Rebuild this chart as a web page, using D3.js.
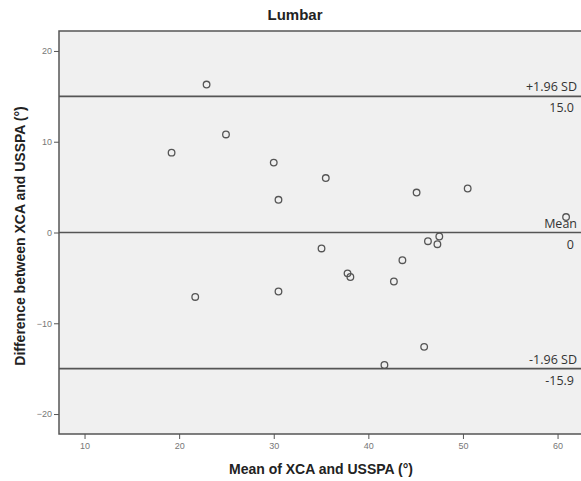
<!DOCTYPE html>
<meta charset="utf-8">
<style>
body { margin: 0; background: #fff; }
.tick text { font-family: "Liberation Sans", Arial, sans-serif; font-size: 9px; fill: #777; }
.axis-label { font-family: "Liberation Sans", Arial, sans-serif; font-size: 14px; font-weight: bold; fill: #222; }
.ref-label { font-family: "Open Sans", sans-serif; font-size: 12.5px; fill: #333; }
</style>
<svg width="581" height="481"></svg>
<script src="https://d3js.org/d3.v7.min.js"></script>
<script>

var meanX = [22.9, 24.95, 19.2, 30.0, 35.5, 30.5, 45.1, 50.5, 60.9, 47.5, 46.3,
             47.3, 35.05, 43.6, 37.8, 38.1, 42.7, 30.5, 21.7, 45.9, 41.7];
var diffY = [16.3, 10.8, 8.8, 7.7, 6.0, 3.6, 4.4, 4.85, 1.7, -0.44, -0.96,
             -1.29, -1.76, -3.05, -4.5, -4.9, -5.4, -6.5, -7.1, -12.6, -14.6];

var refLines = [15.0, 0, -15.0];
var refNames = ["+1.96 SD", "Mean", "-1.96 SD"];
var refValues = ["15.0", "0", "-15.9"];

var xTicks = [10, 20, 30, 40, 50, 60];
var yTicks = [20, 10, 0, -10, -20];

var svg = d3.select("svg");

var plotLeft = 59, plotTop = 31, plotBottom = 434, plotRight = 590;

var x = d3.scaleLinear().domain([7.3, 63.43]).range([plotLeft, plotRight]);
var y = d3.scaleLinear().domain([-22.2, 22.2]).range([plotBottom, plotTop]);

svg.append("rect")
    .attr("x", plotLeft).attr("y", plotTop)
    .attr("width", plotRight - plotLeft).attr("height", plotBottom - plotTop)
    .attr("fill", "#f0f0f0")
    .attr("stroke", "#555")
    .attr("stroke-width", 1.5);

// axes
svg.append("g")
    .attr("transform", "translate(0," + plotBottom + ")")
    .call(d3.axisBottom(x).tickValues(xTicks).tickSize(5).tickPadding(4))
    .call(function(g) { g.select(".domain").remove(); })
    .call(function(g) { g.selectAll("line").attr("stroke", "#555"); });

svg.append("g")
    .attr("transform", "translate(" + plotLeft + ",0)")
    .call(d3.axisLeft(y).tickValues(yTicks).tickSize(5).tickPadding(2))
    .call(function(g) { g.select(".domain").remove(); })
    .call(function(g) { g.selectAll("line").attr("stroke", "#555"); });

// reference lines
svg.append("g").selectAll("line")
  .data(refLines)
  .enter().append("line")
    .attr("x1", plotLeft).attr("x2", plotRight)
    .attr("y1", function(d) { return y(d); })
    .attr("y2", function(d) { return y(d); })
    .attr("stroke", "#555")
    .attr("stroke-width", 1.6);

svg.append("g").selectAll("text")
  .data(refLines)
  .enter().append("text")
    .attr("class", "ref-label")
    .attr("x", 577)
    .attr("y", function(d) { return y(d) - 5; })
    .attr("text-anchor", "end")
    .text(function(d, i) { return refNames[i]; });

svg.append("g").selectAll("text")
  .data(refLines)
  .enter().append("text")
    .attr("class", "ref-label")
    .attr("x", 574)
    .attr("y", function(d) { return y(d) + 16; })
    .attr("text-anchor", "end")
    .text(function(d, i) { return refValues[i]; });

// points
svg.append("g").selectAll("circle")
  .data(meanX)
  .enter().append("circle")
    .attr("cx", function(d) { return x(d); })
    .attr("cy", function(d, i) { return y(diffY[i]); })
    .attr("r", 3.3)
    .attr("fill", "none")
    .attr("stroke", "#555")
    .attr("stroke-width", 1.3);

// titles
svg.append("text")
    .attr("class", "axis-label")
    .attr("x", 295).attr("y", 20)
    .attr("text-anchor", "middle")
    .style("font-size", "15px")
    .text("Lumbar");

svg.append("text")
    .attr("class", "axis-label")
    .attr("x", 321).attr("y", 474)
    .attr("text-anchor", "middle")
    .text("Mean of XCA and USSPA (°)");

svg.append("text")
    .attr("class", "axis-label")
    .attr("transform", "translate(25,236) rotate(-90)")
    .attr("text-anchor", "middle")
    .text("Difference between XCA and USSPA (°)");

</script>
